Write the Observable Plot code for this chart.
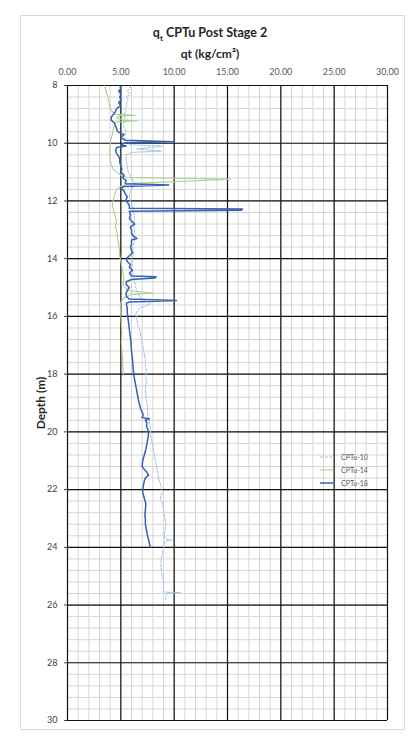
<!DOCTYPE html>
<html><head><meta charset="utf-8">
<script src="https://cdn.jsdelivr.net/npm/d3@7"></script>
<script src="https://cdn.jsdelivr.net/npm/@observablehq/plot@0.6"></script>
<style>
body{margin:0;background:#fff;}
#wrap{position:relative;width:420px;height:747px;font-family:Lato,"Open Sans",sans-serif;overflow:hidden;}
#frame{position:absolute;left:20px;top:15px;width:385px;height:715px;border:1px solid #d9d9d9;box-sizing:border-box;}
.ttl{position:absolute;left:0;width:420px;text-align:center;font-weight:bold;color:#262626;}
#ylab{position:absolute;left:40px;top:403px;transform:translate(-50%,-50%) rotate(-90deg);font-weight:bold;font-size:12px;color:#262626;white-space:nowrap;}
#chart{position:absolute;left:0;top:0;}
#legend{position:absolute;left:320px;top:450px;font-size:7px;color:#595959;}
.lr{height:13.3px;display:flex;align-items:center;}
.lr svg{margin-right:8px;}
</style></head>
<body>
<div id="wrap">
  <div id="frame"></div>
  <div id="chart"></div>
  <div class="ttl" style="top:25px;font-size:12.5px;">q<sub style="font-size:8px;">t</sub> CPTu Post Stage 2</div>
  <div class="ttl" style="top:46px;font-size:12px;">qt (kg/cm²)</div>
  <div id="ylab">Depth (m)</div>
  <div id="legend"></div>
</div>
<script>
// ---- data (depth m, qt kg/cm2) ----
const seriesNames = ["CPTu-10", "CPTu-14", "CPTu-18"];
const seriesColors = ["#9dc3e6", "#a9d18e", "#3461b3"];

const cptu10Depth = [8.0,8.1,8.2,8.3,8.4,8.5,8.6,8.7,8.8,8.9,9.0,9.2,9.4,9.6,9.8,9.95,10.05,10.1,10.2,10.27,10.32,10.4,10.6,10.8,11.0,11.2,11.4,11.6,11.8,12.0,12.2,12.4,12.6,12.8,13.0,13.2,13.4,13.6,13.8,14.0,14.2,14.4,14.6,14.8,15.0,15.2,15.4,15.55,15.62,15.7,15.9,16.1,16.3,16.5,16.7,16.9,17.1,17.3,17.5,17.7,17.9,18.1,18.3,18.5,18.7,18.9,19.1,19.3,19.5,19.7,19.9,20.1,20.3,20.5,20.7,20.9,21.1,21.3,21.5,21.7,21.9,22.1,22.3,22.5,22.7,22.9,23.1,23.3,23.5,23.7,23.75,23.8,24.0,24.2,24.4,24.6,24.8,25.0,25.2,25.4,25.55,25.57,25.6,25.8];
const cptu10Qt    = [6.0,5.8,5.6,5.9,5.5,5.7,5.5,5.6,5.3,5.5,5.3,5.4,5.2,5.5,5.3,5.6,5.8,8.9,6.5,8.8,6.0,5.5,5.5,5.6,5.7,6.0,6.3,6.0,5.8,5.9,6.1,6.2,6.3,6.2,6.3,6.2,6.3,6.1,6.2,6.0,6.1,6.0,6.2,6.3,6.4,6.6,6.9,7.8,7.5,6.8,6.4,6.5,6.6,6.8,6.9,7.0,7.1,7.2,7.3,7.3,7.4,7.35,7.4,7.3,7.35,7.4,7.5,7.5,7.6,7.7,7.8,7.8,7.9,8.0,8.1,8.2,8.3,8.4,8.5,8.6,8.8,8.85,8.7,8.9,9.0,9.1,9.2,9.2,9.1,9.1,9.8,9.1,9.0,8.9,8.8,8.75,8.8,8.9,9.0,9.0,9.0,10.6,9.3,9.2];

const cptu14Depth = [8.0,8.2,8.4,8.6,8.8,8.9,9.0,9.03,9.06,9.12,9.2,9.22,9.26,9.35,9.5,9.7,9.9,10.1,10.3,10.5,10.7,10.9,11.0,11.1,11.18,11.25,11.4,11.5,11.6,11.8,12.0,12.1,12.3,12.5,12.7,12.9,13.1,13.3,13.5,13.7,13.9,14.1,14.3,14.5,14.7,14.9,15.0,15.1,15.2,15.24,15.3,15.4,15.5,15.7,16.0,16.3,16.6,16.9,17.2,17.5,17.8,18.0];
const cptu14Qt    = [3.5,3.6,3.8,3.9,4.0,4.2,4.5,6.4,4.8,4.6,5.2,6.6,4.6,4.4,4.3,4.2,4.05,4.0,3.95,4.0,4.05,4.3,4.6,5.0,5.5,15.3,5.8,5.0,4.6,4.4,4.3,4.2,4.3,4.45,4.6,4.5,4.65,4.7,4.8,4.85,4.9,5.0,5.1,5.2,5.3,5.2,5.4,5.7,8.1,6.0,5.6,5.2,5.0,4.95,5.0,5.05,5.1,5.05,5.1,5.15,5.2,5.25];

const cptu18Depth = [8.0,8.1,8.2,8.3,8.4,8.5,8.6,8.7,8.8,8.9,9.0,9.1,9.2,9.3,9.4,9.5,9.6,9.7,9.8,9.9,9.95,9.98,10.05,10.1,10.15,10.25,10.35,10.45,10.55,10.65,10.8,10.9,11.0,11.1,11.2,11.3,11.4,11.45,11.5,11.55,11.65,11.75,11.85,11.95,12.05,12.15,12.25,12.28,12.32,12.36,12.5,12.6,12.7,12.8,12.9,13.0,13.1,13.2,13.3,13.35,13.5,13.6,13.7,13.8,13.9,14.0,14.1,14.2,14.3,14.4,14.5,14.6,14.63,14.67,14.72,14.8,14.9,15.0,15.1,15.2,15.3,15.4,15.45,15.5,15.55,15.7,15.85,16.0,16.3,16.6,16.9,17.2,17.5,17.8,18.0,18.3,18.6,18.9,19.2,19.4,19.5,19.55,19.6,19.7,19.8,20.0,20.2,20.4,20.6,20.8,21.0,21.2,21.3,21.4,21.5,21.6,21.7,21.9,22.1,22.3,22.5,22.7,22.9,23.0,23.2,23.4,23.6,23.8,24.0];
const cptu18Qt    = [4.9,5.0,4.8,5.0,4.9,5.0,4.8,5.0,4.6,4.5,4.3,4.1,4.1,4.4,4.5,4.6,4.7,5.3,5.0,5.4,10.0,5.5,5.0,5.5,4.6,4.5,4.6,4.8,4.9,4.9,5.0,5.1,5.0,5.3,5.2,5.5,5.4,9.5,5.3,5.0,5.3,5.4,5.6,5.5,5.6,5.8,5.8,16.4,16.3,5.8,5.9,5.8,6.0,6.3,5.9,6.0,6.0,6.1,6.5,6.0,6.0,5.9,6.0,6.1,5.8,5.5,5.6,5.9,5.8,6.1,5.8,6.0,8.3,8.2,6.0,5.5,5.5,5.8,5.6,5.5,5.5,5.8,10.2,5.8,5.5,5.6,5.6,5.65,5.75,5.85,5.95,6.0,6.1,6.15,6.2,6.35,6.5,6.65,6.85,7.1,7.0,7.7,7.3,7.45,7.4,7.6,7.55,7.45,7.35,7.2,7.05,7.0,7.2,7.45,7.6,7.3,7.2,7.1,7.05,7.2,7.35,7.3,7.25,7.3,7.3,7.4,7.5,7.65,7.75];

// ---- axis ticks ----
const xTicks = [0, 5, 10, 15, 20, 25, 30];
const yTicks = [8, 10, 12, 14, 16, 18, 20, 22, 24, 26, 28, 30];
const minorX = d3.range(0, 30.001, 1);
const minorY = d3.range(8, 30.001, 0.4);

const toRows = (name, depths, qts) => depths.map((d, i) => ({series: name, depth: d, qt: qts[i]}));
const d10 = toRows("CPTu-10", cptu10Depth, cptu10Qt);
const d14 = toRows("CPTu-14", cptu14Depth, cptu14Qt);
const d18 = toRows("CPTu-18", cptu18Depth, cptu18Qt);

const chart = Plot.plot({
  width: 420, height: 747,
  marginLeft: 67, marginRight: 33, marginTop: 85, marginBottom: 27,
  x: {domain: [0, 30]},
  y: {domain: [8, 30], reverse: true},
  style: {fontFamily: "Lato, 'Open Sans', sans-serif", fontSize: "9px", color: "#404040", background: "transparent"},
  marks: [
    Plot.ruleX(minorX, {stroke: "#d6d6d6", strokeWidth: 1}),
    Plot.ruleY(minorY, {stroke: "#d6d6d6", strokeWidth: 1}),
    Plot.ruleX(xTicks, {stroke: "#111", strokeWidth: 1.2}),
    Plot.ruleY(yTicks, {stroke: "#111", strokeWidth: 1.2}),
    Plot.axisX(xTicks, {anchor: "top", tickSize: 0, tickPadding: 11, tickFormat: d => d.toFixed(2), label: null, fill: "#595959"}),
    Plot.axisY(yTicks, {anchor: "left", tickSize: 3, tickPadding: 7, label: null, fill: "#404040"}),
    Plot.line(d10, {x: "qt", y: "depth", stroke: seriesColors[0], strokeWidth: 1, strokeDasharray: "3,1.5"}),
    Plot.line(d14, {x: "qt", y: "depth", stroke: seriesColors[1], strokeWidth: 1.1}),
    Plot.line(d18, {x: "qt", y: "depth", stroke: seriesColors[2], strokeWidth: 1.5})
  ]
});
document.getElementById("chart").appendChild(chart);

const leg = document.getElementById("legend");
seriesNames.forEach((n, i) => {
  const dash = i === 0 ? ' stroke-dasharray="3,1.5"' : '';
  const w = i === 2 ? 1.5 : 1.1;
  leg.insertAdjacentHTML("beforeend",
    `<div class="lr"><svg width="13" height="4"><line x1="0" y1="2" x2="13" y2="2" stroke="${seriesColors[i]}" stroke-width="${w}"${dash}/></svg><span>${n}</span></div>`);
});
</script>
</body></html>
